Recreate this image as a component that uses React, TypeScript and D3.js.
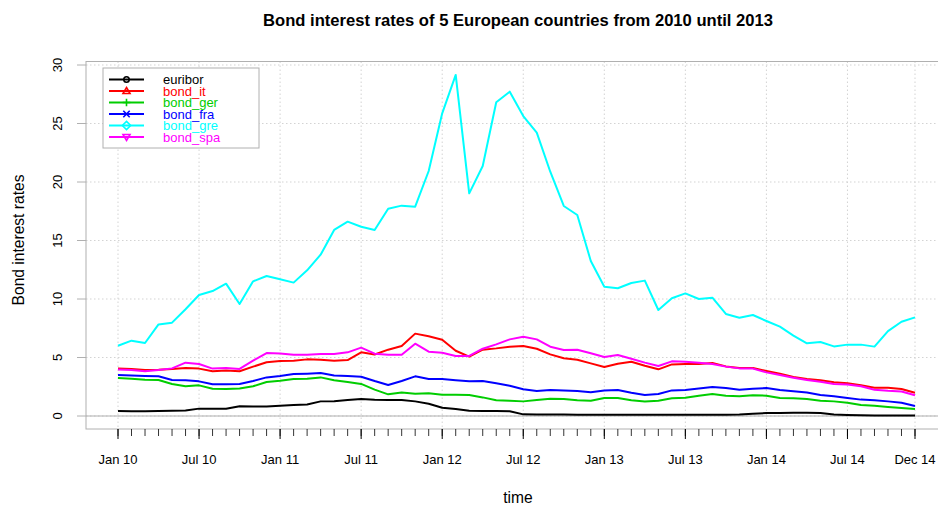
import React from "react";
import * as d3 from "d3";

const startYear = 2010;
const seriesNames = ["euribor", "bond_it", "bond_ger", "bond_fra", "bond_gre", "bond_spa"];
const seriesColors = ["#000000", "#FF0000", "#00CD00", "#0000FF", "#00FFFF", "#FF00FF"];
const seriesSymbols = ["circle", "triangle", "plus", "cross", "diamond", "triangleDown"];

const euribor = [
  0.43, 0.41, 0.41, 0.42, 0.44, 0.47,
  0.63, 0.63, 0.62, 0.84, 0.82, 0.81,
  0.87, 0.93, 0.99, 1.25, 1.27, 1.37,
  1.45, 1.38, 1.37, 1.37, 1.25, 1.05,
  0.71, 0.6, 0.45, 0.43, 0.42, 0.4,
  0.14, 0.12, 0.12, 0.12, 0.11, 0.11,
  0.11, 0.11, 0.11, 0.11, 0.1, 0.1,
  0.1, 0.1, 0.1, 0.11, 0.13, 0.2,
  0.25, 0.26, 0.27, 0.27, 0.25, 0.12,
  0.09, 0.07, 0.04, 0.04, 0.04, 0.04,
];
const bond_it = [
  4.05, 4.02, 3.93, 3.96, 4.02, 4.1,
  4.05, 3.82, 3.88, 3.82, 4.22, 4.59,
  4.7, 4.73, 4.84, 4.81, 4.73, 4.78,
  5.44, 5.26, 5.67, 5.98, 7.04, 6.81,
  6.52, 5.58, 5.07, 5.67, 5.78, 5.92,
  5.98, 5.75, 5.27, 4.93, 4.81, 4.5,
  4.19, 4.47, 4.64, 4.3, 3.99, 4.41,
  4.44, 4.44, 4.53, 4.24, 4.1, 4.1,
  3.85, 3.62, 3.33, 3.16, 3.05, 2.88,
  2.79, 2.62, 2.42, 2.42, 2.31, 1.99,
];
const bond_ger = [
  3.25, 3.19, 3.1, 3.08, 2.74, 2.54,
  2.62, 2.33, 2.31, 2.36, 2.54, 2.91,
  3.02, 3.16, 3.19, 3.3, 3.05, 2.91,
  2.74, 2.25, 1.85, 2.0, 1.91, 1.94,
  1.82, 1.82, 1.79, 1.59, 1.34, 1.31,
  1.25, 1.37, 1.48, 1.45, 1.34, 1.31,
  1.54, 1.54, 1.34, 1.24, 1.31, 1.51,
  1.56, 1.74, 1.88, 1.74, 1.68, 1.77,
  1.74, 1.54, 1.51, 1.45, 1.31, 1.25,
  1.14, 0.94, 0.88, 0.77, 0.68, 0.6,
];
const bond_fra = [
  3.5, 3.47, 3.42, 3.39, 3.08, 3.05,
  2.96, 2.71, 2.71, 2.74, 2.99, 3.3,
  3.42, 3.59, 3.62, 3.67, 3.47, 3.42,
  3.36, 2.99, 2.65, 2.99, 3.39, 3.16,
  3.16, 3.05, 2.96, 2.99, 2.79, 2.59,
  2.28, 2.14, 2.22, 2.19, 2.14, 2.02,
  2.17, 2.22, 1.99, 1.8, 1.88, 2.19,
  2.22, 2.36, 2.48, 2.39, 2.25, 2.33,
  2.39, 2.22, 2.11, 2.0, 1.79, 1.68,
  1.54, 1.4, 1.34, 1.25, 1.14, 0.85,
];
const bond_gre = [
  6.0, 6.44, 6.24, 7.83, 7.98, 9.12,
  10.34, 10.68, 11.31, 9.57, 11.51, 11.97,
  11.68, 11.4, 12.45, 13.79, 15.9, 16.61,
  16.18, 15.9, 17.72, 17.98, 17.89, 20.94,
  25.87, 29.15, 19.03, 21.37, 26.81, 27.72,
  25.64, 24.22, 20.88, 17.95, 17.18, 13.25,
  11.05, 10.92, 11.37, 11.57, 9.06, 10.06,
  10.48, 10.0, 10.11, 8.72, 8.4, 8.63,
  8.12, 7.64, 6.87, 6.21, 6.32, 5.95,
  6.1, 6.1, 5.93, 7.26, 8.06, 8.43,
];
const bond_spa = [
  3.98, 3.93, 3.82, 3.93, 4.07, 4.56,
  4.44, 4.05, 4.1, 4.02, 4.73, 5.38,
  5.35, 5.24, 5.24, 5.3, 5.3, 5.44,
  5.84, 5.33, 5.24, 5.24, 6.18, 5.5,
  5.41, 5.13, 5.13, 5.75, 6.12, 6.55,
  6.78, 6.55, 5.92, 5.64, 5.67, 5.36,
  5.04, 5.21, 4.9, 4.56, 4.27, 4.67,
  4.64, 4.56, 4.44, 4.22, 4.07, 4.05,
  3.73, 3.5, 3.27, 3.08, 2.93, 2.73,
  2.7, 2.54, 2.25, 2.16, 2.1, 1.77,
];
const seriesValues = [euribor, bond_it, bond_ger, bond_fra, bond_gre, bond_spa];

// major tick positions as month offsets from Jan 2010, and their labels
const majorTickMonths = [0, 6, 12, 18, 24, 30, 36, 42, 48, 54, 59];
const majorTickLabels = ["Jan 10", "Jul 10", "Jan 11", "Jul 11", "Jan 12", "Jul 12", "Jan 13", "Jul 13", "Jan 14", "Jul 14", "Dec 14"];
const yTicks = [0, 5, 10, 15, 20, 25, 30];

const W = 938;
const H = 506;
const FONT = "'Liberation Sans', Arial, Helvetica, sans-serif";
const GRID = "#d3d3d3";
const AXIS = "#b0b0b0";

function Symbol({ type, cx, cy, color }: { type: string; cx: number; cy: number; color: string }) {
  const s = 3.2;
  const common = { fill: "none", stroke: color, strokeWidth: 1.6 };
  switch (type) {
    case "circle":
      return <circle cx={cx} cy={cy} r={2.7} {...common} />;
    case "triangle":
      return <path d={`M${cx},${cy - s * 1.1}L${cx + s * 1.1},${cy + s * 0.8}L${cx - s * 1.1},${cy + s * 0.8}Z`} {...common} />;
    case "triangleDown":
      return <path d={`M${cx},${cy + s * 1.1}L${cx + s * 1.1},${cy - s * 0.8}L${cx - s * 1.1},${cy - s * 0.8}Z`} {...common} />;
    case "plus":
      return <path d={`M${cx - s * 1.2},${cy}H${cx + s * 1.2}M${cx},${cy - s * 1.2}V${cy + s * 1.2}`} {...common} />;
    case "cross":
      return <path d={`M${cx - s},${cy - s}L${cx + s},${cy + s}M${cx - s},${cy + s}L${cx + s},${cy - s}`} {...common} />;
    case "diamond":
      return <path d={`M${cx},${cy - s * 1.3}L${cx + s * 1.3},${cy}L${cx},${cy + s * 1.3}L${cx - s * 1.3},${cy}Z`} {...common} />;
    default:
      return null;
  }
}

export default function App() {
  const boxLeft = 86;
  const boxRight = 950;
  const boxTop = 61.5;
  const boxBottom = 429;

  const n = euribor.length;
  const x = d3.scaleLinear().domain([startYear, startYear + (n - 1) / 12]).range([118, 915]);
  const y = d3.scaleLinear().domain([0, 30]).range([416, 65]);
  const tOf = (i: number) => startYear + i / 12;

  const line = d3
    .line<number>()
    .x((_, i) => x(tOf(i)))
    .y((d) => y(d));

  const months = d3.range(n);

  return (
    <svg width={W} height={H} style={{ display: "block", position: "absolute", left: 0, top: 0, background: "#fff" }}>
      <rect width={W} height={H} fill="#fff" />
      {/* grid */}
      {yTicks.map((v) => (
        <line key={"gy" + v} x1={boxLeft} x2={boxRight} y1={y(v)} y2={y(v)} stroke={GRID} strokeDasharray="1.5 2.5" />
      ))}
      {majorTickMonths.map((m) => (
        <line key={"gx" + m} x1={x(tOf(m))} x2={x(tOf(m))} y1={boxTop} y2={boxBottom} stroke={GRID} strokeDasharray="1.5 2.5" />
      ))}
      <line x1={boxLeft} x2={boxRight} y1={y(0)} y2={y(0)} stroke={AXIS} strokeWidth={1.2} />
      {/* box */}
      <rect x={boxLeft} y={boxTop} width={boxRight - boxLeft} height={boxBottom - boxTop} fill="none" stroke={AXIS} />

      {/* y axis */}
      {yTicks.map((v) => (
        <g key={"yt" + v}>
          <line x1={77} x2={boxLeft} y1={y(v)} y2={y(v)} stroke={AXIS} />
          <text transform={`translate(62,${y(v)}) rotate(-90)`} textAnchor="middle" fontFamily={FONT} fontSize={13} fill="#000">
            {v}
          </text>
        </g>
      ))}
      {/* x axis */}
      {months.map((m) => (
        <line key={"mt" + m} x1={x(tOf(m))} x2={x(tOf(m))} y1={boxBottom} y2={boxBottom + 7} stroke="#000" strokeWidth={0.8} />
      ))}
      {majorTickMonths.map((m, k) => (
        <g key={"xt" + m}>
          <line x1={x(tOf(m))} x2={x(tOf(m))} y1={boxBottom} y2={boxBottom + 10} stroke="#000" strokeWidth={1} />
          <text x={x(tOf(m))} y={464} textAnchor="middle" fontFamily={FONT} fontSize={13} fill="#000">
            {majorTickLabels[k]}
          </text>
        </g>
      ))}

      {/* series */}
      {seriesValues.map((vals, k) => (
        <path key={seriesNames[k]} d={line(vals) || ""} fill="none" stroke={seriesColors[k]} strokeWidth={2} strokeLinejoin="round" />
      ))}

      {/* legend */}
      <rect x={103} y={68} width={156} height={80} fill="#fff" stroke={AXIS} />
      {seriesNames.map((name, k) => {
        const ly = 79.5 + k * 11.5;
        return (
          <g key={"lg" + name}>
            <line x1={109} x2={144} y1={ly} y2={ly} stroke={seriesColors[k]} strokeWidth={2} />
            <Symbol type={seriesSymbols[k]} cx={126.5} cy={ly} color={seriesColors[k]} />
            <text x={163} y={ly + 4.5} fontFamily={FONT} fontSize={13} fill={seriesColors[k]}>
              {name}
            </text>
          </g>
        );
      })}

      {/* titles */}
      <text x={518} y={26} textAnchor="middle" fontFamily={FONT} fontSize={16.6} fontWeight="bold" fill="#000">
        Bond interest rates of 5 European countries from 2010 until 2013
      </text>
      <text x={518} y={503} textAnchor="middle" fontFamily={FONT} fontSize={15.6} fill="#000">
        time
      </text>
      <text transform="translate(24,240) rotate(-90)" textAnchor="middle" fontFamily={FONT} fontSize={15.6} fill="#000">
        Bond interest rates
      </text>
    </svg>
  );
}
